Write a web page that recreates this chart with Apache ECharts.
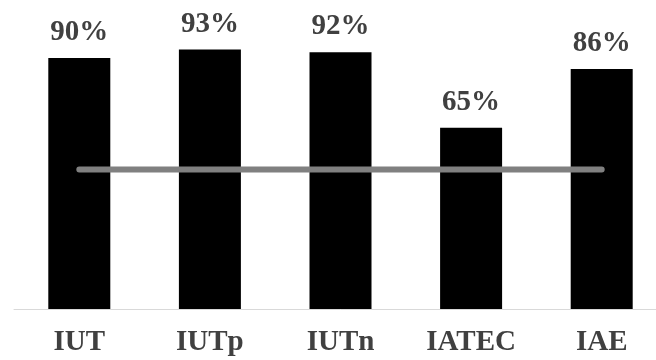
<!DOCTYPE html>
<html>
<head>
<meta charset="utf-8">
<script src="https://cdn.jsdelivr.net/npm/echarts@6/dist/echarts.min.js"></script>
<style>
  html, body { margin: 0; padding: 0; background: #fff; overflow: hidden; }
  #chart { width: 667px; height: 360px; }
</style>
</head>
<body>
<div id="chart"></div>
<script>
var categories = ['IUT', 'IUTp', 'IUTn', 'IATEC', 'IAE'];
var rates = [90, 93, 92, 65, 86];
var reference = [50, 50, 50, 50, 50];

var font = '"Liberation Serif", "Times New Roman", serif';

// the plot runs slightly past the right edge of the picture
var myChart = echarts.init(document.getElementById('chart'));
var option = {
    animation: false,
    grid: {
        left: 14,
        right: 0,
        top: 30,
        bottom: 51
    },
    xAxis: {
        type: 'category',
        data: categories,
        axisTick: { show: false },
        axisLine: { lineStyle: { color: '#d9d9d9', width: 1 } },
        axisLabel: {
            color: '#404040',
            fontFamily: font,
            fontWeight: 'bold',
            fontSize: 29,
            margin: 19
        }
    },
    yAxis: {
        type: 'value',
        min: 0,
        max: 100,
        show: false
    },
    series: [
        {
            type: 'bar',
            data: rates,
            barWidth: 62,
            itemStyle: { color: '#000' },
            label: {
                show: true,
                position: 'top',
                distance: 11,
                formatter: '{c}%',
                color: '#404040',
                fontFamily: font,
                fontWeight: 'bold',
                fontSize: 29
            }
        },
        {
            type: 'line',
            data: reference,
            showSymbol: false,
            symbol: 'none',
            lineStyle: { color: '#808080', width: 6, cap: 'round' },
            z: 3
        }
    ]
};
myChart.setOption(option);
</script>
</body>
</html>
